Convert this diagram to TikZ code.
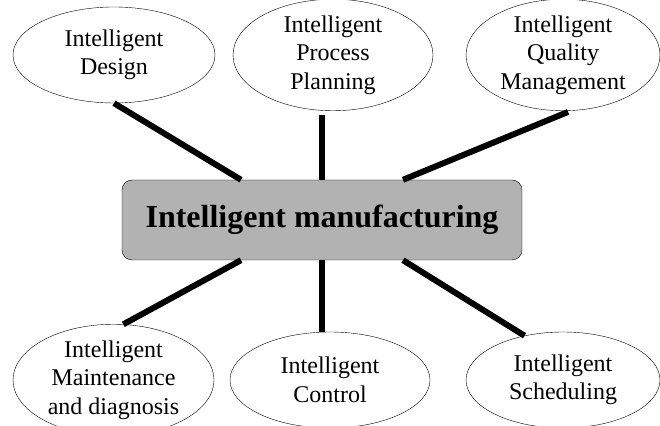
\documentclass[tikz,border=0pt]{standalone}
\usepackage{fontspec}
\setmainfont{Liberation Serif}
\usetikzlibrary{shapes.geometric}

\begin{document}
\begin{tikzpicture}[x=1pt,y=1pt]
        \tikzset{area/.style={draw,ellipse,inner sep=0pt,minimum height=96pt,align=center,font=\fontsize{24}{28.5}\selectfont}}
        \tikzset{hub/.style={draw,fill=black!30,rounded corners=10pt,minimum width=400pt,minimum height=80pt,font=\fontsize{32}{38}\selectfont\bfseries}}
        \tikzset{link/.style={draw,line width=6pt}}

        \useasboundingbox (0,0) rectangle (660,425);

        \node[hub] (core) at (322,205) {Intelligent manufacturing};

        \node[area,minimum width=202pt] (design) at (114,370) {Intelligent\\Design};
        \node[area,minimum width=200pt] (planning) at (333,370) {Intelligent\\Process\\Planning};
        \node[area,minimum width=194pt] (quality) at (563,370) {Intelligent\\Quality\\Management};

        \node[area,minimum width=201pt] (maintenance) at (113.5,45) {Intelligent\\Maintenance\\and diagnosis};
        \node[area,minimum width=200pt] (control) at (330,45) {Intelligent\\Control};
        \node[area,minimum width=194pt] (scheduling) at (563,45) {Intelligent\\Scheduling};

        \draw[link] ([xshift=-81pt]core.north) -- (design.south);
        \draw[link,shorten >=4pt] (core.north) -- (core.north |- planning.south);
        \draw[link,shorten >=3pt] ([xshift=81pt]core.north) -- (quality.-82);

        \draw[link] ([xshift=-81pt]core.south) -- (maintenance.80);
        \draw[link] (core.south) -- (core.south |- control.north);
        \draw[link] ([xshift=81pt]core.south) -- (scheduling.131);
    \end{tikzpicture}
\end{document}
